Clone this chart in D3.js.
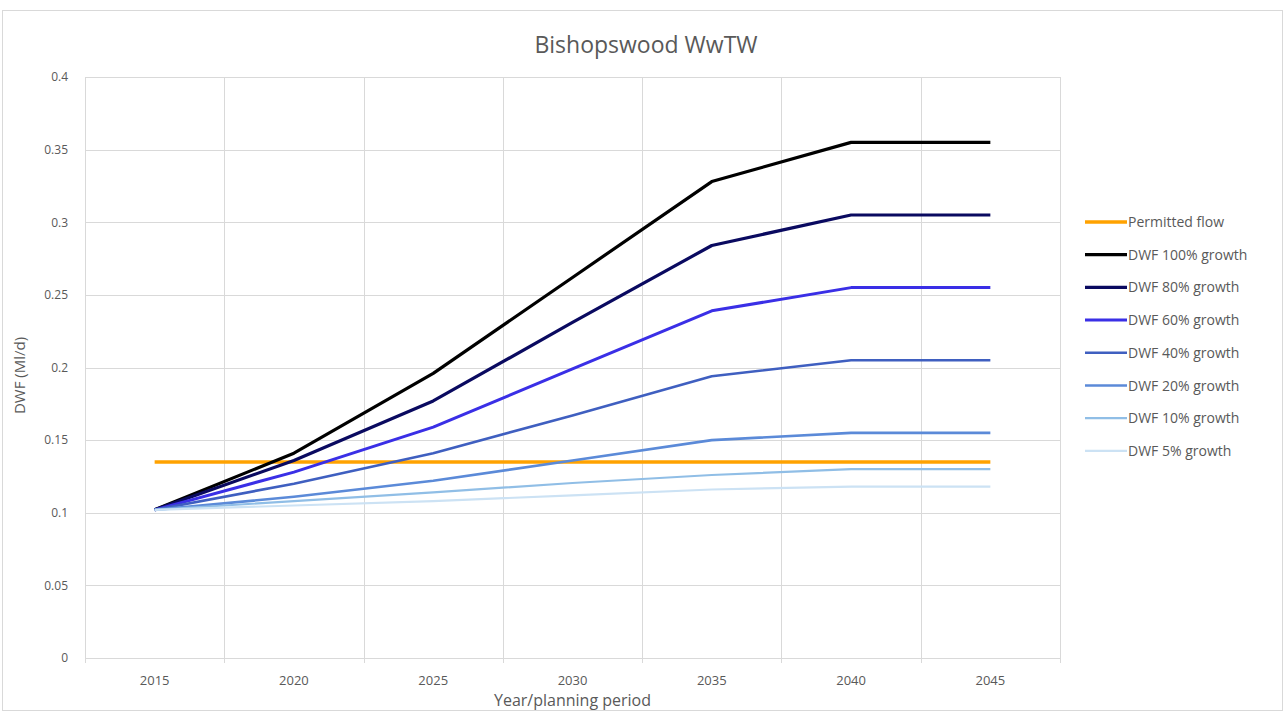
<!DOCTYPE html>
<html>
<head>
<meta charset="utf-8">
<script src="https://cdn.jsdelivr.net/npm/d3@7"></script>
<style>
  html, body { margin: 0; padding: 0; background: #ffffff; }
  svg { display: block; }
  text { font-family: "Open Sans", "Liberation Sans", sans-serif; fill: #595959; }
</style>
</head>
<body>
<svg id="chart" width="1285" height="711"></svg>
<script>
// ---- data ----
const years = ["2015", "2020", "2025", "2030", "2035", "2040", "2045"];
const yTicks = [0, 0.05, 0.1, 0.15, 0.2, 0.25, 0.3, 0.35, 0.4];
const seriesNames = ["Permitted flow", "DWF 100% growth", "DWF 80% growth", "DWF 60% growth",
                     "DWF 40% growth", "DWF 20% growth", "DWF 10% growth", "DWF 5% growth"];
const permittedFlow = [0.135, 0.135, 0.135, 0.135, 0.135, 0.135, 0.135];
const dwf100 = [0.102, 0.141, 0.196, 0.262, 0.328, 0.355, 0.355];
const dwf80  = [0.102, 0.136, 0.177, 0.231, 0.284, 0.305, 0.305];
const dwf60  = [0.102, 0.128, 0.159, 0.199, 0.239, 0.255, 0.255];
const dwf40  = [0.102, 0.120, 0.141, 0.167, 0.194, 0.205, 0.205];
const dwf20  = [0.102, 0.111, 0.122, 0.136, 0.150, 0.155, 0.155];
const dwf10  = [0.102, 0.108, 0.114, 0.1205, 0.126, 0.130, 0.130];
const dwf5   = [0.102, 0.105, 0.108, 0.112, 0.116, 0.118, 0.118];
const seriesValues = [permittedFlow, dwf100, dwf80, dwf60, dwf40, dwf20, dwf10, dwf5];
const seriesColors = ["#FFA200", "#000000", "#0A0A60", "#3A2FE6", "#3F5FC0", "#5B8AD8", "#90BEE6", "#CCE2F4"];
const seriesWidths = [3.5, 3.2, 3.2, 3, 2.6, 2.6, 2.2, 2.2];

// ---- layout ----
const svg = d3.select("#chart");
const plot = { left: 85, right: 1060, top: 77, bottom: 658 };

svg.append("rect").attr("x", 2.5).attr("y", 10.5).attr("width", 1280).attr("height", 700)
  .attr("fill", "#fff").attr("stroke", "#d9d9d9");

const x = d3.scaleBand().domain(years).range([plot.left, plot.right]).padding(0);
const y = d3.scaleLinear().domain([0, 0.4]).range([plot.bottom, plot.top]);
const cx = d => x(d) + x.bandwidth() / 2;

// horizontal gridlines
svg.append("g").selectAll("line").data(yTicks).join("line")
  .attr("x1", plot.left).attr("x2", plot.right)
  .attr("y1", d => Math.round(y(d)) + 0.5).attr("y2", d => Math.round(y(d)) + 0.5)
  .attr("stroke", "#d9d9d9").attr("stroke-width", 1);

// vertical gridlines at category boundaries
const edges = years.map(d => x(d)).concat([plot.right]);
svg.append("g").selectAll("line").data(edges).join("line")
  .attr("x1", d => Math.round(d) + 0.5).attr("x2", d => Math.round(d) + 0.5)
  .attr("y1", plot.top).attr("y2", plot.bottom + 5)
  .attr("stroke", "#d9d9d9").attr("stroke-width", 1);

// y axis labels
const yAxis = d3.axisLeft(y).tickValues(yTicks).tickSize(0).tickPadding(17)
  .tickFormat(d => d === 0 ? "0" : String(+d.toFixed(2)));
const gy = svg.append("g").attr("transform", `translate(${plot.left},0)`).call(yAxis);
gy.select(".domain").remove();
gy.selectAll("text").attr("font-size", 12).style("fill", "#595959")
  .attr("font-family", "'Open Sans', sans-serif");

// x axis labels
const xAxis = d3.axisBottom(x).tickSize(0).tickPadding(18);
const gx = svg.append("g").attr("transform", `translate(0,${plot.bottom})`).call(xAxis);
gx.select(".domain").attr("stroke", "#d9d9d9");
gx.selectAll("text").attr("font-size", 13).style("fill", "#595959")
  .attr("font-family", "'Open Sans', sans-serif");

// lines
const line = d3.line().x((d, i) => cx(years[i])).y(d => y(d));
svg.append("g").selectAll("path").data(seriesValues).join("path")
  .attr("d", d => line(d))
  .attr("fill", "none")
  .attr("stroke", (d, i) => seriesColors[i])
  .attr("stroke-width", (d, i) => seriesWidths[i])
  .attr("stroke-linejoin", "round");

// title
svg.append("text").attr("x", 646).attr("y", 53).attr("text-anchor", "middle")
  .attr("font-size", 23).text("Bishopswood WwTW");

// axis titles
svg.append("text").attr("transform", `translate(25,${(plot.top + plot.bottom) / 2 + 8}) rotate(-90)`)
  .attr("text-anchor", "middle").attr("font-size", 15).text("DWF (Ml/d)");
svg.append("text").attr("x", cx("2030")).attr("y", 706).attr("text-anchor", "middle")
  .attr("font-size", 16).text("Year/planning period");

// legend
const leg = svg.append("g").selectAll("g").data(seriesNames).join("g")
  .attr("transform", (d, i) => `translate(1085,${222 + i * 32.7})`);
leg.append("line").attr("x1", 0).attr("x2", 42).attr("y1", 0).attr("y2", 0)
  .attr("stroke", (d, i) => seriesColors[i])
  .attr("stroke-width", (d, i) => seriesWidths[i]);
leg.append("text").attr("x", 43).attr("y", 5).attr("font-size", 14).text(d => d);
</script>
</body>
</html>
